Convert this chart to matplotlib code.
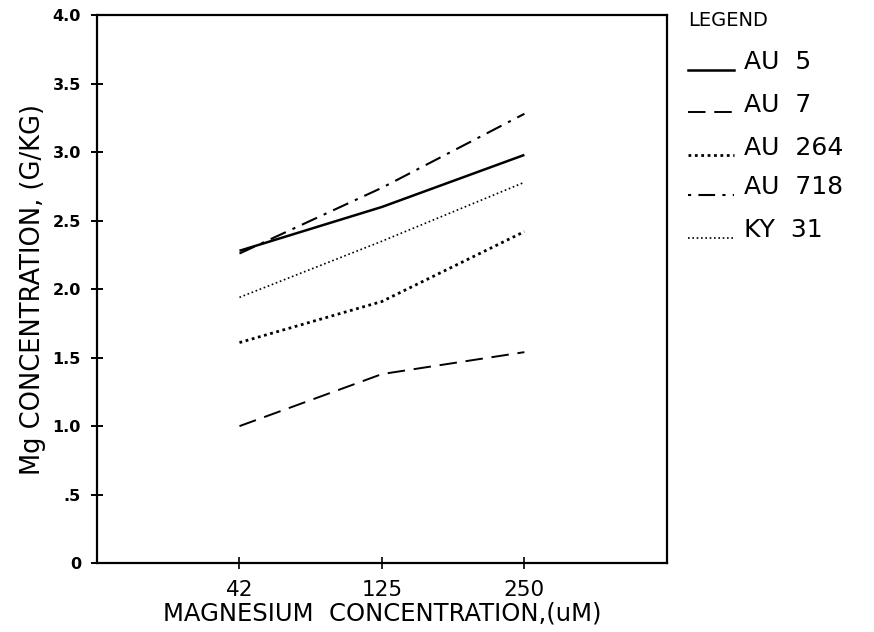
import matplotlib
matplotlib.use('Agg')
import matplotlib.pyplot as plt
from matplotlib.lines import Line2D
from matplotlib.ticker import FixedLocator, FixedFormatter

# magnesium treatment levels (uM) and the measured Mg concentration (g/kg)
concentrations = ['42', '125', '250']
au5 = [2.28, 2.60, 2.98]
au7 = [1.00, 1.38, 1.54]
au264 = [1.61, 1.91, 2.42]
au718 = [2.26, 2.74, 3.28]
ky31 = [1.94, 2.35, 2.78]

series_names = ['AU  5', 'AU  7', 'AU  264', 'AU  718', 'KY  31']
y_ticks = [0, 0.5, 1.0, 1.5, 2.0, 2.5, 3.0, 3.5, 4.0]
y_tick_labels = ['0', '.5', '1.0', '1.5', '2.0', '2.5', '3.0', '3.5', '4.0']

styles = [
    dict(linestyle='-', linewidth=1.8),
    dict(linestyle=(0, (9, 4.5)), linewidth=1.4),
    dict(linestyle=(0, (1, 1.3)), linewidth=2.0),
    dict(linestyle=(0, (8, 3.5, 1.5, 3.5)), linewidth=1.5),
    dict(linestyle=(0, (1, 1.6)), linewidth=1.2),
]
# legend sample of the dash-dot series starts with its dot
legend_styles = list(styles)
legend_styles[3] = dict(linestyle=(0, (1.5, 3.5, 8, 3.5)), linewidth=1.5)

fig = plt.figure(figsize=(8.74, 6.32), dpi=100)
ax = fig.add_axes([0.111, 0.109, 0.652, 0.867])

x = list(range(1, len(concentrations) + 1))
all_series = [au5, au7, au264, au718, ky31]
for vals, st in zip(all_series, styles):
    ax.plot(x, vals, color='black', solid_capstyle='butt',
            dash_capstyle='butt', **st)

ax.set_xlim(0, 4)
ax.set_ylim(0, 4)
ax.xaxis.set_major_locator(FixedLocator(x))
ax.xaxis.set_major_formatter(FixedFormatter(concentrations))
ax.yaxis.set_major_locator(FixedLocator(y_ticks))
ax.yaxis.set_major_formatter(FixedFormatter(y_tick_labels))

for side in ['left', 'bottom', 'right', 'top']:
    ax.spines[side].set_linewidth(1.6)

ax.tick_params(axis='y', direction='inout', length=9, width=1.4, pad=7,
               labelsize=11.5)
ax.tick_params(axis='x', direction='inout', length=8, width=1.2, pad=8,
               labelsize=15.5)
for lbl in ax.get_yticklabels():
    lbl.set_fontweight('black')

ax.set_xlabel('MAGNESIUM  CONCENTRATION,(uM)', fontsize=17.5, labelpad=1)
ax.set_ylabel('Mg CONCENTRATION, (G/KG)', fontsize=18.5, labelpad=5)

# hand-made legend to the right of the axes
fig.text(0.787, 0.968, 'LEGEND', fontsize=14, va='center', ha='left')
row_y = [0.902, 0.834, 0.766, 0.704, 0.636]
for name, st, yy in zip(series_names, legend_styles, row_y):
    line = Line2D([0.787, 0.840], [yy - 0.012, yy - 0.012],
                  transform=fig.transFigure, color='black', **st)
    fig.add_artist(line)
    fig.text(0.851, yy, name, fontsize=18, va='center', ha='left')

fig.savefig('out.png', dpi=100, facecolor='white')
